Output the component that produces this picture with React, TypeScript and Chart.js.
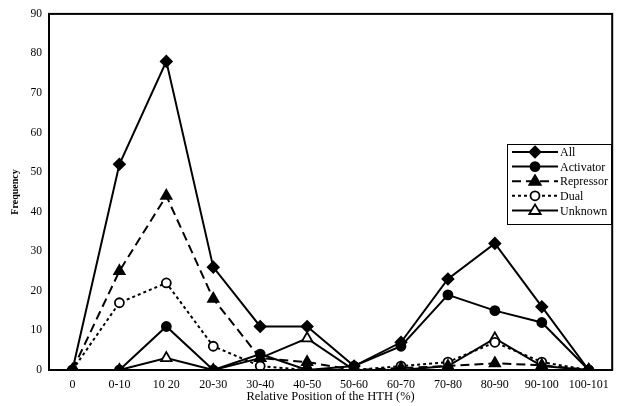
import React, { useEffect, useRef } from "react";
import { Chart, registerables } from "chart.js";
Chart.register(...registerables);

const categories = ["0", "0-10", "10 20", "20-30", "30-40", "40-50", "50-60", "60-70", "70-80", "80-90", "90-100", "100-101"];
const allValues = [0, 52, 78, 26, 11, 11, 1, 7, 23, 32, 16, 0];
const activatorValues = [0, 0, 11, 0, 4, 0, 1, 6, 19, 15, 12, 0];
const repressorValues = [0, 25, 44, 18, 3, 2, 0, 0.5, 1, 1.7, 1.2, 0];
const dualValues = [0, 17, 22, 6, 1, 0, 0, 1, 2, 7, 2, 0];
const unknownValues = [0, 0, 3, 0, 3, 8, 0, 0, 1, 8, 1, 0];
const yTicks = [0, 10, 20, 30, 40, 50, 60, 70, 80, 90];

const SERIF = "'Liberation Serif', 'DejaVu Serif', serif";

function marker(ctx: CanvasRenderingContext2D, style: string, r: number, x: number, y: number) {
  ctx.beginPath();
  if (style === "circle") {
    ctx.arc(x, y, r, 0, Math.PI * 2);
  } else if (style === "rectRot") {
    ctx.moveTo(x, y - r);
    ctx.lineTo(x + r, y);
    ctx.lineTo(x, y + r);
    ctx.lineTo(x - r, y);
    ctx.closePath();
  } else {
    ctx.moveTo(x, y - r);
    ctx.lineTo(x + r * 0.95, y + r * 0.6);
    ctx.lineTo(x - r * 0.95, y + r * 0.6);
    ctx.closePath();
  }
}

const frameAndLegend = {
  id: "frameAndLegend",
  afterDraw(chart: any) {
    const { ctx, chartArea } = chart;
    ctx.save();
    ctx.strokeStyle = "#000";
    ctx.lineWidth = 2;
    ctx.strokeRect(chartArea.left, chartArea.top, chartArea.right - chartArea.left, chartArea.bottom - chartArea.top);
    const bx = 507, by = 144, bw = 104, bh = 80;
    ctx.fillStyle = "#fff";
    ctx.fillRect(bx, by, bw, bh);
    ctx.lineWidth = 1;
    ctx.strokeRect(bx + 0.5, by + 0.5, bw, bh);
    const rowH = 14.6;
    chart.data.datasets.forEach((ds: any, i: number) => {
      const y = by + 8 + i * rowH;
      ctx.beginPath();
      ctx.setLineDash(ds.borderDash || []);
      ctx.lineWidth = 2;
      ctx.strokeStyle = "#000";
      ctx.moveTo(bx + 5, y);
      ctx.lineTo(bx + 51, y);
      ctx.stroke();
      ctx.setLineDash([]);
      marker(ctx, ds.pointStyle, ds.pointRadius, bx + 28, y);
      ctx.fillStyle = ds.pointBackgroundColor;
      ctx.lineWidth = ds.pointBorderWidth;
      ctx.fill();
      ctx.stroke();
      ctx.fillStyle = "#000";
      ctx.font = "12px " + SERIF;
      ctx.textBaseline = "middle";
      ctx.textAlign = "left";
      ctx.fillText(ds.label, bx + 53, y + 1);
    });
    ctx.restore();
  },
};

export default function App() {
  const ref = useRef<HTMLCanvasElement | null>(null);
  useEffect(() => {
    document.body.style.margin = "0";
    const mk = (label: string, data: number[], pointStyle: string, radius: number, fill: string, dash: number[]) => ({
      label,
      data,
      borderColor: "#000",
      borderWidth: 2,
      borderDash: dash,
      pointStyle,
      pointRadius: radius,
      pointBackgroundColor: fill,
      pointBorderColor: "#000",
      pointBorderWidth: 1.8,
      tension: 0,
      fill: false,
    });
    const chart = new Chart(ref.current!, {
      type: "line",
      data: {
        labels: categories,
        datasets: [
          mk("All", allValues, "rectRot", 5.5, "#000", []),
          mk("Activator", activatorValues, "circle", 4.5, "#000", []),
          mk("Repressor", repressorValues, "triangle", 6, "#000", [9, 5]),
          mk("Dual", dualValues, "circle", 4.5, "#fff", [3, 3]),
          mk("Unknown", unknownValues, "triangle", 6, "#fff", []),
        ] as any,
      },
      options: {
        animation: false,
        responsive: false,
        events: [],
        layout: { padding: { left: 0, top: 10, right: 7, bottom: 0 } },
        plugins: { legend: { display: false }, tooltip: { enabled: false } },
        scales: {
          x: {
            offset: true,
            grid: { display: false },
            border: { display: true, color: "#000", width: 2 },
            ticks: { color: "#000", font: { family: SERIF, size: 12 }, padding: 0, maxRotation: 0, autoSkip: false },
            title: { display: true, text: "Relative Position of the HTH (%)", color: "#000", font: { family: SERIF, size: 12.5 }, padding: { top: 0, bottom: 2 } },
            afterFit: (s: any) => { s.height = 36; },
          },
          y: {
            min: 0,
            max: 90,
            afterBuildTicks: (s: any) => { s.ticks = yTicks.map((v) => ({ value: v })); },
            grid: { display: false, drawTicks: false },
            border: { display: true, color: "#000", width: 2 },
            ticks: { color: "#000", font: { family: SERIF, size: 11.5 }, padding: 7 },
            title: { display: true, text: "Frequency", color: "#000", font: { family: SERIF, size: 10, weight: "bold" }, padding: { top: 9, bottom: 0 } },
            afterFit: (s: any) => { s.width = 49; },
          },
        },
      } as any,
      plugins: [frameAndLegend],
    });
    return () => chart.destroy();
  }, []);
  return <canvas ref={ref} width={620} height={406} style={{ display: "block" }} />;
}
